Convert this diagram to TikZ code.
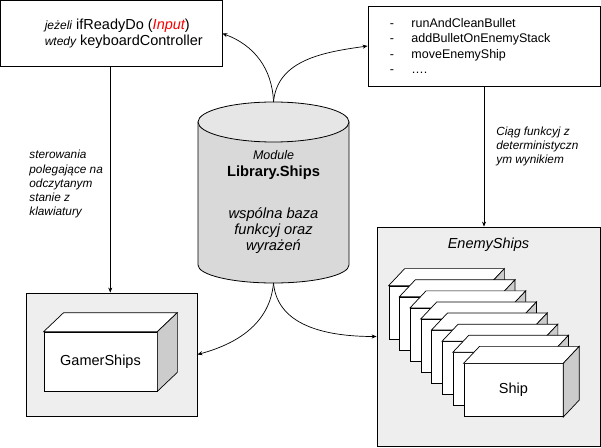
\documentclass[tikz,border=0pt]{standalone}
\usepackage{fontspec}
\setmainfont{Liberation Sans}
\usetikzlibrary{positioning,calc,arrows.meta}

\definecolor{groupgray}{HTML}{EEEEEE}
\definecolor{sidegray}{HTML}{CCCCCC}
\definecolor{dbbody}{HTML}{D9D9D9}
\definecolor{dbtop}{HTML}{E6E6E6}

% top and side of a box drawn behind its front face
\newcommand\crate[3]{%
  \draw[face] (#1.north west) -- ++(#2,#3) -- ($(#1.north east)+(#2,#3)$) -- (#1.north east) -- cycle;
  \draw[face,fill=sidegray] (#1.north east) -- ++(#2,#3) -- ($(#1.south east)+(#2,#3)$) -- (#1.south east) -- cycle;}

\begin{document}
\begin{tikzpicture}[x=1pt,y=1pt,>={Stealth[length=5pt,width=4pt]},
    box/.style={draw,line width=0.8pt,inner sep=0pt},
    group/.style={box,fill=groupgray},
    face/.style={draw,fill=white,line width=0.7pt,inner sep=0pt},
    big/.style={font=\fontsize{14.5}{16}\selectfont},
    note/.style={align=left,inner sep=0pt,font=\itshape\fontsize{11.8}{14.2}\selectfont},
    conn/.style={line width=0.7pt}]
  \useasboundingbox (0,0) rectangle (601,447);

  \node[box,minimum width=221.5,minimum height=66] (ctrl) at (111.25,413.5) {};
  \node[big,align=left,inner sep=0pt,right=44.5pt of ctrl.west] (ctrltext)
    {{\itshape\fontsize{12}{14}\selectfont jeżeli} ifReadyDo ({\color{red}\itshape Input})\\
     {\itshape\fontsize{12}{14}\selectfont wtedy} keyboardController};

  \node[box,minimum width=232,minimum height=80] (funcs) at (484,401) {};
  \node[align=left,inner sep=0pt,font=\fontsize{12.5}{15.6}\selectfont,right=22pt of funcs.west] (funcstext)
    {-\hspace{17.5pt}runAndCleanBullet\\
     -\hspace{17.5pt}addBulletOnEnemyStack\\
     -\hspace{17.5pt}moveEnemyShip\\
     -\hspace{17.5pt}….};

  % the module as a cylinder
  \draw[box,fill=dbbody] (198,325) -- (198,182) arc[start angle=180,end angle=360,x radius=75.5,y radius=18] -- (349,325) -- cycle;
  \draw[box,fill=dbtop] (273.5,325) ellipse[x radius=75.5,y radius=20];
  \coordinate (libtop) at (273.5,345);
  \coordinate (libbottom) at (273.5,164);
  \node[align=center,inner sep=0pt,font=\fontsize{14.7}{16.2}\selectfont] (libtext) at (273.5,245)
    {{\itshape\fontsize{12.5}{15}\selectfont Module}\\[1pt]
     {\bfseries Library.Ships}\\[26pt]
     {\itshape wspólna baza}\\
     {\itshape funkcyj oraz}\\
     {\itshape wyrażeń}};

  \node[group,minimum width=171,minimum height=123] (gamer) at (111.5,92.5) {};
  \node[face,big,minimum width=113,minimum height=59] (gship) at (100.5,85.5) {GamerShips};
  \crate{gship}{20}{19}

  \node[group,minimum width=223,minimum height=219] (enemy) at (488.5,110.5) {};
  \node[big,font=\itshape\fontsize{14.5}{16}\selectfont] (enemytitle) at ([yshift=-18pt]enemy.north) {EnemyShips};
  \foreach \i in {0,...,7}{
    \node[face,big,minimum width=99,minimum height=53] (ship\i) at (438.5+10.7*\i,134.5-11.1*\i) {\ifnum\i=7 Ship\fi};
    \crate{ship\i}{16}{17}
  }

  \path[->,conn]
    (libtop) edge[out=92,in=-20] (ctrl.east)
    (libtop) edge[out=85,in=188] (funcs.west)
    (libbottom) edge[out=-95,in=15] (gamer.east)
    (libbottom) edge[out=-85,in=180] (enemy.west)
    ([xshift=-1pt]ctrl.south) edge node[note,left=7pt,pos=.52]
      {sterowania\\polegające na\\odczytanym\\stanie z\\klawiatury}
      ([xshift=-1pt]ctrl.south |- gamer.north)
    (funcs.south) edge node[note,right=12pt,pos=.43]
      {Ciąg funkcyj z\\deterministyczn\\ym wynikiem}
      (funcs.south |- enemy.north);
\end{tikzpicture}
\end{document}
